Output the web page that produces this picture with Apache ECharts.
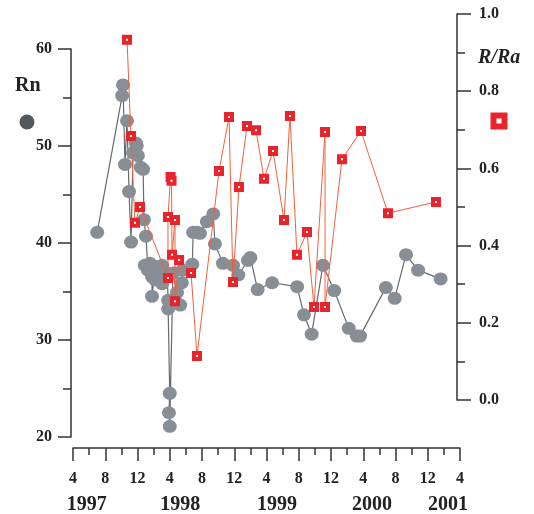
<!DOCTYPE html>
<html><head><meta charset="utf-8">
<script src="https://cdn.jsdelivr.net/npm/echarts@6/dist/echarts.min.js"></script>
<style>html,body{margin:0;padding:0;background:#fff}#c{width:534px;height:514px}</style>
</head><body><div id="c"></div>
<script>
// x values: month index counted from Jan 1997 (Apr 1997 = 4, Apr 1998 = 16, ...)
const rnMonths = [7.0,10.1,10.2,10.45,10.7,10.95,11.2,11.45,11.8,11.9,12.05,12.4,12.7,12.8,13.05,13.3,12.9,13.55,13.8,13.8,14.2,14.2,14.4,14.55,14.8,15.05,15.05,15.4,15.7,15.8,15.8,16.0,15.9,16.0,16.4,16.9,17.3,17.5,17.6,18.8,18.9,19.4,19.75,20.6,21.4,21.6,22.6,23.85,24.5,25.7,26.0,26.9,28.7,31.8,32.65,33.6,35.0,36.4,38.2,39.2,39.6,42.8,43.9,45.3,46.8,49.6];
const rnValues = [41.1,55.2,56.3,48.1,52.6,45.3,40.1,49.3,50.3,50.0,49.0,47.8,47.6,42.4,40.7,37.2,37.7,37.9,36.5,34.5,37.6,36.2,37.4,36.7,36.2,37.7,35.8,37.0,36.5,34.1,33.2,24.5,22.5,21.1,36.9,34.9,33.6,35.9,37.2,37.8,41.1,41.1,41.0,42.2,43.0,39.9,37.9,37.7,36.7,38.2,38.5,35.2,35.9,35.5,32.6,30.6,37.7,35.1,31.2,30.4,30.4,35.4,34.3,38.8,37.2,36.3];
const raMonths = [10.70,11.19,11.69,12.31,15.78,15.78,16.10,16.22,16.28,16.65,16.65,17.15,18.64,19.38,22.11,23.35,23.84,24.59,25.58,26.70,27.69,28.81,30.17,30.91,31.78,33.02,33.89,35.26,35.26,37.36,39.72,43.07,49.02];
const raValues = [0.933,0.684,0.459,0.500,0.316,0.474,0.578,0.568,0.376,0.466,0.256,0.363,0.329,0.114,0.593,0.733,0.306,0.552,0.710,0.699,0.573,0.645,0.466,0.736,0.376,0.435,0.241,0.694,0.241,0.624,0.697,0.484,0.513];
const yearLabels = ['1997','1998','1999','2000','2001'];
const yearAt = [5.7,17.3,29.3,41.1,50.5];
const rnTitle = 'Rn';
const raTitle = 'R/Ra';

const FONT = 'Liberation Serif';
const AXC = '#333';
const rnData = rnMonths.map((m,i)=>[m,rnValues[i]]);
const raData = raMonths.map((m,i)=>[m,raValues[i]]);

const chart = echarts.init(document.getElementById('c'), null, {renderer:'canvas'});
const axisLine = {show:true, lineStyle:{color:AXC, width:1.5}};
const lbl = {color:'#222', fontFamily:FONT, fontWeight:'bold', fontSize:16};
chart.setOption({
  animation:false,
  backgroundColor:'#fff',
  grid:[
    {left:73, right:74, top:49, bottom:77},
    {left:73, right:74, top:14, bottom:114}
  ],
  xAxis:[
    {gridIndex:0, type:'value', min:4, max:52, interval:4, position:'bottom', offset:11,
     axisLine:axisLine, axisTick:{show:true, length:13, lineStyle:{color:AXC,width:1.5}},
     minorTick:{show:true, splitNumber:2, length:7, lineStyle:{color:AXC,width:1.5}},
     splitLine:{show:false}, minorSplitLine:{show:false},
     axisLabel:Object.assign({}, lbl, {margin:23, fontSize:16, showMinLabel:true, showMaxLabel:true,
       formatter:v=>String(((Math.round(v)-1)%12)+1)})},
    {gridIndex:1, type:'value', min:4, max:52, show:false}
  ],
  yAxis:[
    {gridIndex:0, type:'value', min:20, max:60, interval:10, position:'left', offset:2,
     axisLine:axisLine, axisTick:{show:true, length:13, lineStyle:{color:AXC,width:1.5}},
     minorTick:{show:true, splitNumber:2, length:8, lineStyle:{color:AXC,width:1.5}},
     splitLine:{show:false}, axisLabel:Object.assign({}, lbl, {margin:19})},
    {gridIndex:1, type:'value', min:0, max:1, interval:0.2, position:'right', offset:-3,
     axisLine:axisLine, axisTick:{show:true, length:14, lineStyle:{color:AXC,width:1.5}},
     minorTick:{show:true, splitNumber:2, length:8, lineStyle:{color:AXC,width:1.5}},
     splitLine:{show:false}, axisLabel:Object.assign({}, lbl, {margin:22, formatter:v=>v.toFixed(1)})}
  ],
  series:[
    {type:'line', name:rnTitle, xAxisIndex:0, yAxisIndex:0, data:rnData,
     symbol:'circle', symbolSize:[14,13], showAllSymbol:true,
     itemStyle:{color:'#878e96'}, lineStyle:{color:'#666a6e', width:1.2}, z:2},
    {type:'line', name:raTitle, xAxisIndex:1, yAxisIndex:1, data:raData,
     symbol:'rect', symbolSize:6, showAllSymbol:true,
     itemStyle:{color:'#ffffff', borderColor:'#e8242a', borderWidth:4}, lineStyle:{color:'#f2603e', width:1}, z:3}
  ]
});

const gfx = [
  {type:'text', left:15, top:76, style:{text:rnTitle, font:'bold 20px "Liberation Serif"', fill:'#222'}},
  {type:'circle', shape:{cx:27, cy:122, r:7.5}, style:{fill:'#53585c'}},
  {type:'text', left:478, top:48, style:{text:raTitle, font:'italic bold 20px "Liberation Serif"', fill:'#222'}},
  {type:'rect', shape:{x:493.5, y:115.5, width:11, height:11}, style:{fill:'#fff', stroke:'#e8242a', lineWidth:6}}
];
yearLabels.forEach((t,i)=>{
  const px = chart.convertToPixel({xAxisIndex:0}, yearAt[i]);
  gfx.push({type:'text', x:px, y:505, style:{text:t, font:'bold 20px "Liberation Serif"', fill:'#222', textAlign:'center', textVerticalAlign:'middle'}});
});
chart.setOption({graphic:gfx});
</script>
</body></html>
